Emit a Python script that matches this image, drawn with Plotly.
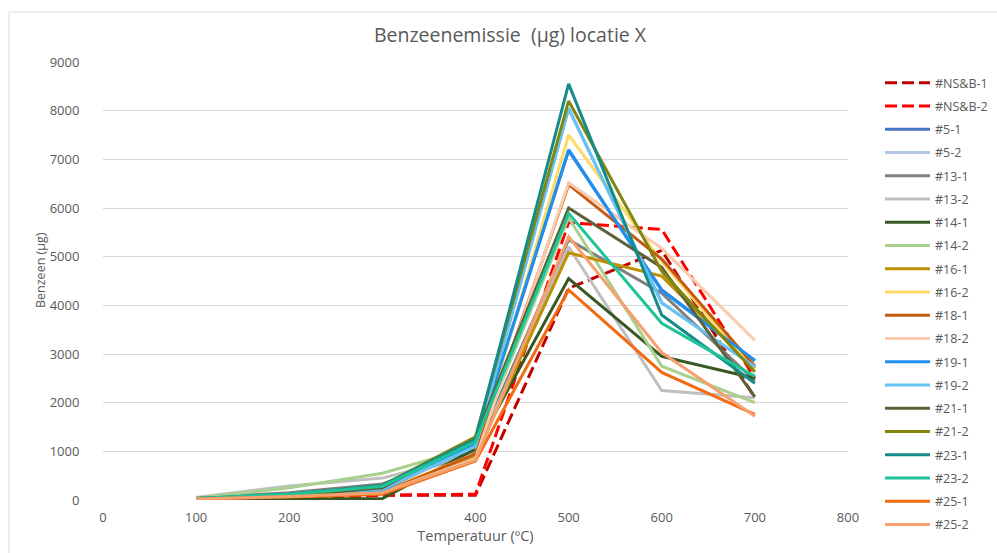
import plotly.graph_objects as go

# Temperature steps (°C)
temperatures = [100, 200, 300, 400, 500, 600, 700]

# Benzene emission (µg) per sample
series_names = [
    "#NS&B-1", "#NS&B-2", "#5-1", "#5-2", "#13-1", "#13-2", "#14-1", "#14-2",
    "#16-1", "#16-2", "#18-1", "#18-2", "#19-1", "#19-2", "#21-1", "#21-2",
    "#23-1", "#23-2", "#25-1", "#25-2",
]

nsb_1 = [0, 0, 100, 100, 4350, 5130, 2100]
nsb_2 = [0, 0, 100, 120, 5700, 5560, 2500]
s5_1 = [30, 100, 210, 1130, 7180, 4320, 2860]
s5_2 = [30, 100, 220, 1090, 8030, 4060, 2730]
s13_1 = [40, 150, 330, 1000, 5350, 4250, 2450]
s13_2 = [50, 290, 450, 950, 5200, 2250, 2100]
s14_1 = [20, 20, 30, 1050, 4550, 2950, 2500]
s14_2 = [40, 250, 550, 1100, 5800, 2750, 2000]
s16_1 = [30, 100, 200, 900, 5080, 4600, 2700]
s16_2 = [30, 100, 180, 950, 7500, 4900, 2650]
s18_1 = [20, 80, 150, 950, 6480, 4950, 2750]
s18_2 = [20, 80, 150, 850, 6520, 5170, 3280]
s19_1 = [30, 100, 200, 1150, 7200, 4300, 2870]
s19_2 = [30, 100, 220, 1100, 8050, 4050, 2740]
s21_1 = [20, 80, 250, 1280, 6000, 4780, 2120]
s21_2 = [30, 100, 300, 1300, 8200, 4700, 2630]
s23_1 = [30, 120, 300, 1250, 8550, 3800, 2400]
s23_2 = [30, 120, 280, 1200, 5890, 3630, 2540]
s25_1 = [20, 60, 120, 800, 4320, 2620, 1760]
s25_2 = [20, 70, 150, 820, 5410, 3030, 1720]

series_values = [
    nsb_1, nsb_2, s5_1, s5_2, s13_1, s13_2, s14_1, s14_2,
    s16_1, s16_2, s18_1, s18_2, s19_1, s19_2, s21_1, s21_2,
    s23_1, s23_2, s25_1, s25_2,
]

series_colors = [
    "#C00000", "#FF0000", "#4472C4", "#B4C7E7", "#7F7F7F", "#BFBFBF",
    "#385723", "#A9D18E", "#BF9000", "#FFD966", "#C55A11", "#F8CBAD",
    "#1E90F0", "#66C2F2", "#5D6138", "#82860F", "#158C8A", "#1DC497",
    "#F36A10", "#F5A06E",
]

x_ticks = [0, 100, 200, 300, 400, 500, 600, 700, 800]
y_ticks = [0, 1000, 2000, 3000, 4000, 5000, 6000, 7000, 8000, 9000]

TEXT = "#595959"
GRID = "#D9D9D9"
FONT = "Open Sans"

fig = go.Figure()
for name, vals, col in zip(series_names, series_values, series_colors):
    dashed = name.startswith("#NS&B")
    fig.add_trace(go.Scatter(
        x=temperatures, y=vals, name=name, mode="lines",
        legendgroup=name,
        line=dict(color=col, width=3, dash="12px,5px" if dashed else "solid"),
    ))

# plot area in pixels: x 103..848, y 62..500
W, H = 997, 553
L, R, T, B = 103, 848, 62, 500
pw, ph = R - L, B - T


def px_x(p):
    return (p - L) / pw


def px_y(p):
    return (B - p) / ph


fig.update_layout(
    width=W, height=H,
    margin=dict(l=L, r=W - R, t=T, b=H - B, autoexpand=False),
    paper_bgcolor="white", plot_bgcolor="white",
    font=dict(family=FONT, color=TEXT, size=13),
    title=dict(
        text="Benzeenemissie \u00a0(µg) locatie X",
        x=px_x(510), xref="paper", xanchor="center",
        y=1 - 35 / H, yref="container", yanchor="middle",
        font=dict(size=19.5, color=TEXT, family=FONT),
    ),
    xaxis=dict(
        range=[0, 800], tickvals=x_ticks, ticktext=[str(v) for v in x_ticks],
        showgrid=False, zeroline=False, showline=False,
        ticks="outside", ticklen=5, tickcolor="rgba(0,0,0,0)",
        tickfont=dict(size=13, color=TEXT),
        title=dict(text="Temperatuur (ºC)", standoff=2,
                   font=dict(size=14.5, color=TEXT)),
    ),
    yaxis=dict(
        range=[0, 9000], tickvals=y_ticks, ticktext=[str(v) for v in y_ticks],
        showgrid=True, gridcolor=GRID, gridwidth=1, zeroline=False, showline=False,
        ticks="outside", ticklen=20, tickcolor="rgba(0,0,0,0)",
        tickfont=dict(size=13, color=TEXT),
    ),
    annotations=[
        dict(text="Benzeen (µg)", textangle=-90, showarrow=False,
             xref="paper", yref="paper", x=px_x(40), y=px_y(270),
             xanchor="center", yanchor="middle",
             font=dict(size=12.5, color=TEXT, family=FONT)),
    ],
    legend=dict(
        x=px_x(880), xanchor="left", y=px_y(68), yanchor="top",
        font=dict(size=12.5, color=TEXT, family=FONT),
        tracegroupgap=4, bgcolor="rgba(0,0,0,0)",
        itemwidth=45, maxheight=560,
    ),
    shapes=[
        dict(type="rect", xref="paper", yref="paper",
             x0=px_x(9), x1=px_x(1010), y0=px_y(565), y1=px_y(12),
             line=dict(color=GRID, width=1), fillcolor="rgba(0,0,0,0)",
             layer="below"),
    ],
)

fig.write_html("out.html")
